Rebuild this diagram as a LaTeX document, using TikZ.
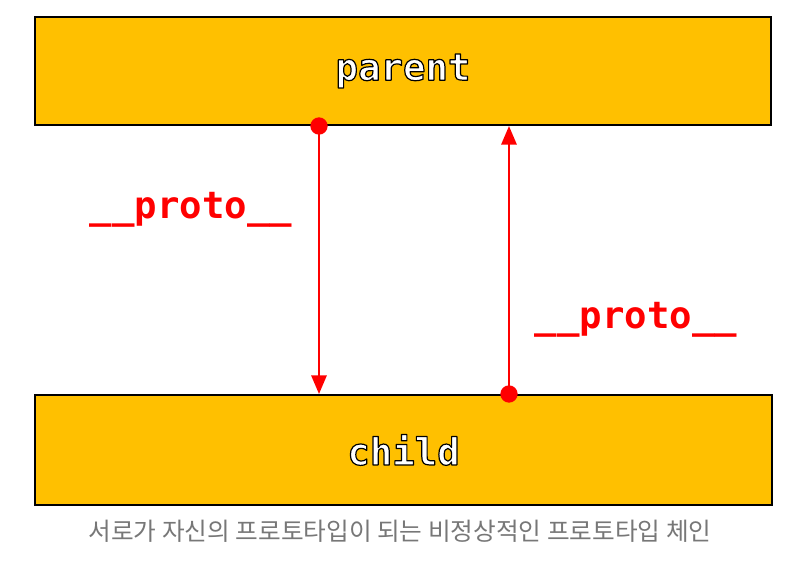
\documentclass[tikz,border=0pt]{standalone}
\usepackage{fontspec}
\usetikzlibrary{arrows.meta}
\newfontfamily\monofont{DejaVu Sans Mono}
\newfontfamily\cjk{Noto Sans CJK KR}
\definecolor{boxfill}{HTML}{FFC000}
\definecolor{protored}{HTML}{FF0000}
\definecolor{capgray}{HTML}{777777}
\newcommand{\outlinedtext}[1]{{\color{white}\special{pdf:code q 2 Tr 1 j 0.9 w 0 0 0 RG 1 1 1 rg}#1\special{pdf:code Q}}}
\tikzset{
  box/.style={draw=black, line width=1.5pt, fill=boxfill, inner sep=0pt},
  boxtext/.style={font=\monofont\bfseries\fontsize{28}{32}\selectfont},
  link/.style={draw=protored, line width=1.5pt, -{Triangle[length=14pt,width=11.5pt]}},
  plabel/.style={font=\monofont\bfseries\fontsize{28}{32}\selectfont, text=protored},
  caption/.style={font=\cjk\fontsize{18.5}{22}\selectfont, text=capgray}
}
\begin{document}
\begin{tikzpicture}[x=0.75pt, y=-0.75pt]
\useasboundingbox (0,0) rectangle (801,561);
\node[box, minimum width=552pt, minimum height=81pt] (parent) at (403,71) {};
\node[box, minimum width=552.75pt, minimum height=82.5pt] (child) at (403.5,450) {};
\node[boxtext] (ptext) at (parent.center) {\outlinedtext{parent}};
\node[boxtext] (ctext) at (child.center) {\outlinedtext{child}};
% connectors
\coordinate (a1) at ([xshift=213.75pt]parent.south west);
\coordinate (a2) at ([xshift=213.75pt]child.north west);
\coordinate (b1) at ([xshift=356.25pt]child.north west);
\coordinate (b2) at ([xshift=356.25pt]parent.south west);
\draw[link] (a1) -- (a2);
\draw[link] (b1) -- (b2);
\fill[protored] (a1) circle (6.5pt);
\fill[protored] (b1) circle (6.5pt);
\node[plabel] (l1) at (191,210) {\_\_proto\_\_};
\node[plabel] (l2) at (636,320) {\_\_proto\_\_};
\node[caption] (cap) at (400,531) {서로가 자신의 프로토타입이 되는 비정상적인 프로토타입 체인};
\end{tikzpicture}
\end{document}
